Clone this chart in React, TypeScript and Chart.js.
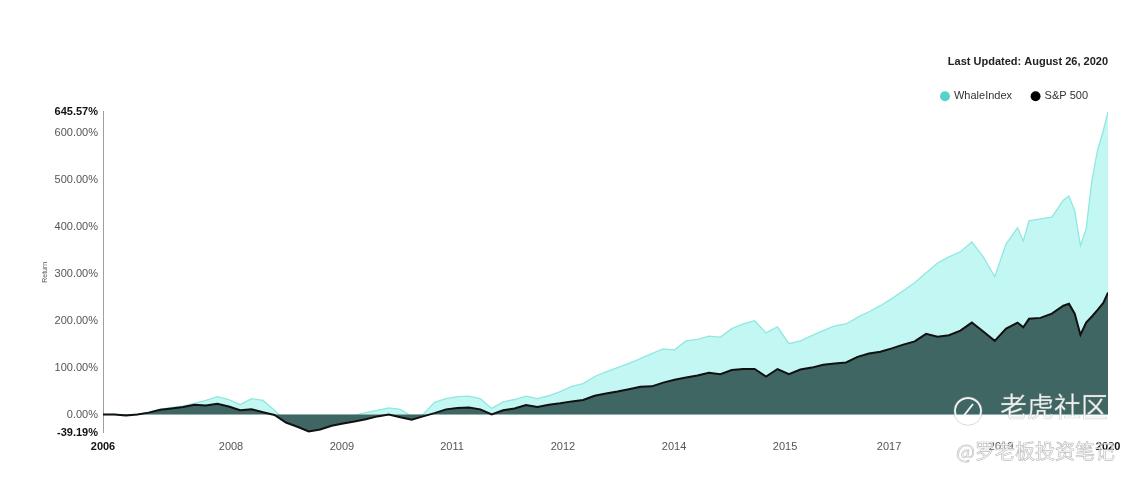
import React, { useEffect, useRef } from 'react';
import { Chart, registerables } from 'chart.js';

Chart.register(...registerables);

// ---- data ----
const DATES = [
  '2006-01', '2006-03', '2006-05', '2006-07', '2006-09', '2006-11',
  '2007-01', '2007-03', '2007-05', '2007-07', '2007-09', '2007-11',
  '2008-01', '2008-03', '2008-05', '2008-07', '2008-09', '2008-11',
  '2009-01', '2009-03', '2009-05', '2009-07', '2009-09', '2009-11',
  '2010-01', '2010-03', '2010-05', '2010-07', '2010-09', '2010-11',
  '2011-01', '2011-03', '2011-05', '2011-07', '2011-09', '2011-11',
  '2012-01', '2012-03', '2012-05', '2012-07', '2012-09', '2012-11',
  '2013-01', '2013-03', '2013-05', '2013-07', '2013-09', '2013-11',
  '2014-01', '2014-03', '2014-05', '2014-07', '2014-09', '2014-11',
  '2015-01', '2015-03', '2015-05', '2015-07', '2015-09', '2015-11',
  '2016-01', '2016-03', '2016-05', '2016-07', '2016-09', '2016-11',
  '2017-01', '2017-03', '2017-05', '2017-07', '2017-09', '2017-11',
  '2018-01', '2018-03', '2018-05', '2018-07', '2018-09', '2018-11',
  '2019-01', '2019-03', '2019-05', '2019-06', '2019-07', '2019-09', '2019-11',
  '2020-01', '2020-02', '2020-03', '2020-04', '2020-05', '2020-06', '2020-07',
  '2020-08-01', '2020-08-26',
];

const WHALE_INDEX = [
  0, 0, -1, 0, 5, 11,
  15, 18, 24, 30, 38, 32,
  21, 34, 30, 9, -15, -23,
  -32, -28, -19, -11, -2, 4,
  9, 14, 11, -4, 0, 26,
  34, 38, 39, 34, 13, 27,
  32, 39, 34, 40, 49, 60,
  66, 81, 91, 100, 109, 119,
  130, 140, 138, 157, 160, 167,
  165, 183, 193, 200, 174, 187,
  151, 157, 168, 179, 189, 193,
  207, 219, 232, 247, 264, 281,
  302, 323, 336, 347, 368, 336,
  294, 364, 398, 370, 413, 417, 421,
  457, 466, 434, 360, 396, 498, 564,
  605, 645.57,
];

const SP500 = [
  0, 0, -2, 0, 4, 10,
  13, 16, 21, 19, 23, 17,
  9, 11, 5, -1, -17, -26,
  -36, -32, -24, -19, -15, -10,
  -4, 0, -6, -11, -4, 3,
  11, 14, 15, 11, 0, 9,
  13, 20, 16, 21, 24, 28,
  31, 40, 45, 49, 54, 59,
  60, 68, 74, 79, 83, 89,
  86, 95, 97, 97, 81, 97,
  86, 96, 100, 106, 109, 111,
  123, 130, 134, 141, 149, 156,
  172, 166, 169, 179, 196, 177,
  157, 183, 196, 186, 204, 206, 215,
  232, 236, 215, 170, 196, 209, 223,
  238, 260,
];

const SERIES_NAMES = ['WhaleIndex', 'S&P 500'];
const Y_TICKS = [-39.19, 0, 100, 200, 300, 400, 500, 600, 645.57];
const X_TICK_YEARS = [2006.0, 2007.866, 2009.484, 2011.088, 2012.706, 2014.325, 2015.943, 2017.46, 2019.092, 2020.652];
const X_TICK_LABELS = ['2006', '2008', '2009', '2011', '2012', '2014', '2015', '2017', '2019', '2020'];
const LAST_UPDATED = 'Last Updated: August 26, 2020';
const Y_TITLE = 'Return';
const WATERMARK_MAIN = '老虎社区';
const WATERMARK_SUB = '@罗老板投资笔记';

const FONT = "'Liberation Sans', Arial, Helvetica, sans-serif";

function toYear(d: string): number {
  const parts = d.split('-').map(Number);
  const y = parts[0];
  const m = parts[1] || 1;
  const day = parts[2] || 1;
  return y + (m - 1) / 12 + (day - 1) / 365;
}

const watermarkPlugin = {
  id: 'watermark',
  afterDraw(chart: any) {
    const ctx = chart.ctx as CanvasRenderingContext2D;
    ctx.save();
    // icon
    ctx.strokeStyle = 'rgba(255,255,255,0.92)';
    ctx.lineWidth = 2;
    ctx.beginPath();
    ctx.arc(968, 411, 13, 0, Math.PI * 2);
    ctx.stroke();
    ctx.strokeStyle = 'rgba(150,150,150,0.45)';
    ctx.lineWidth = 0.8;
    ctx.beginPath();
    ctx.arc(968, 411, 14.3, 0, Math.PI * 2);
    ctx.stroke();
    ctx.strokeStyle = 'rgba(255,255,255,0.92)';
    ctx.lineWidth = 2;
    ctx.beginPath();
    ctx.moveTo(962, 418);
    ctx.lineTo(973, 404);
    ctx.stroke();

    ctx.textBaseline = 'middle';
    ctx.textAlign = 'left';
    ctx.font = "27px 'Noto Sans CJK SC', sans-serif";
    ctx.fillStyle = 'rgba(255,255,255,0.92)';
    ctx.strokeStyle = 'rgba(150,150,150,0.4)';
    ctx.lineWidth = 0.7;
    ctx.fillText(WATERMARK_MAIN, 1000, 407);
    ctx.strokeText(WATERMARK_MAIN, 1000, 407);

    ctx.font = "20px 'Noto Sans CJK SC', sans-serif";
    ctx.fillStyle = 'rgba(255,255,255,0.88)';
    ctx.strokeStyle = 'rgba(150,150,150,0.6)';
    ctx.lineWidth = 0.7;
    ctx.fillText(WATERMARK_SUB, 956, 451);
    ctx.strokeText(WATERMARK_SUB, 956, 451);
    ctx.restore();
  },
};

export default function App() {
  const canvasRef = useRef<HTMLCanvasElement | null>(null);

  useEffect(() => {
    document.body.style.margin = '0';
    document.body.style.background = '#ffffff';
    const canvas = canvasRef.current;
    if (!canvas) return;

    const xs = DATES.map(toYear);
    const whaleData = xs.map((x, i) => ({ x, y: WHALE_INDEX[i] }));
    const spData = xs.map((x, i) => ({ x, y: SP500[i] }));
    const yMin = Y_TICKS[0];
    const yMax = Y_TICKS[Y_TICKS.length - 1];

    const isEdgeY = (v: number) => v === yMin || v === yMax;

    const chart = new Chart(canvas, {
      type: 'line',
      data: {
        datasets: [
          {
            label: SERIES_NAMES[0],
            data: whaleData,
            borderColor: '#90e8e0',
            borderWidth: 1.3,
            backgroundColor: '#c3f7f3',
            fill: 'origin',
            pointRadius: 0,
            pointBackgroundColor: '#56d2c6',
            pointBorderColor: '#56d2c6',
            pointBorderWidth: 0,
            pointStyle: 'circle',
            tension: 0,
            order: 2,
          },
          {
            label: SERIES_NAMES[1],
            data: spData,
            borderColor: '#111111',
            borderWidth: 2,
            backgroundColor: '#3f6663',
            fill: 'origin',
            pointRadius: 0,
            pointBackgroundColor: '#000000',
            pointBorderColor: '#000000',
            pointBorderWidth: 0,
            pointStyle: 'circle',
            tension: 0,
            order: 1,
          },
        ],
      },
      options: {
        responsive: false,
        maintainAspectRatio: false,
        animation: false,
        events: [],
        layout: { padding: { top: 0, left: 0, right: 29, bottom: 0 } },
        plugins: {
          title: {
            display: true,
            text: LAST_UPDATED,
            align: 'end',
            color: '#222222',
            font: { family: FONT, size: 11, weight: 'bold' },
            padding: { top: 55.4, bottom: 2.1 },
          },
          legend: {
            display: true,
            align: 'end',
            labels: {
              usePointStyle: true,
              pointStyle: 'circle',
              boxWidth: 7,
              boxHeight: 7,
              padding: 20,
              color: '#333333',
              font: { family: FONT, size: 11 },
              sort: (a: any, b: any) => a.datasetIndex - b.datasetIndex,
            },
          },
          tooltip: { enabled: false },
        },
        scales: {
          x: {
            type: 'linear',
            min: xs[0],
            max: xs[xs.length - 1],
            afterBuildTicks: (s: any) => {
              s.ticks = X_TICK_YEARS.map((v) => ({ value: v }));
            },
            afterFit: (s: any) => {
              s.height = 45.1;
            },
            grid: { display: false, drawTicks: false },
            border: { display: false },
            ticks: {
              autoSkip: false,
              maxRotation: 0,
              minRotation: 0,
              padding: 7,
              callback: (_v: any, i: number) => X_TICK_LABELS[i],
              color: (c: any) => (c.index === 0 || c.index === X_TICK_LABELS.length - 1 ? '#111111' : '#555555'),
              font: (c: any) => ({
                family: FONT,
                size: 11,
                weight: c.index === 0 || c.index === X_TICK_LABELS.length - 1 ? 'bold' : 'normal',
              }),
            },
          },
          y: {
            type: 'linear',
            min: yMin,
            max: yMax,
            afterBuildTicks: (s: any) => {
              s.ticks = Y_TICKS.map((v) => ({ value: v }));
            },
            afterFit: (s: any) => {
              s.width = 103;
            },
            grid: { display: false, drawTicks: false },
            border: { display: true, color: '#a0a0a0', width: 1 },
            title: {
              display: true,
              text: Y_TITLE,
              color: '#555555',
              font: { family: FONT, size: 7 },
              padding: { top: 41, bottom: 0 },
            },
            ticks: {
              autoSkip: false,
              padding: 5,
              callback: (v: any) => Number(v).toFixed(2) + '%',
              color: (c: any) => (c.tick && isEdgeY(c.tick.value) ? '#111111' : '#555555'),
              font: (c: any) => ({
                family: FONT,
                size: 11,
                weight: c.tick && isEdgeY(c.tick.value) ? 'bold' : 'normal',
              }),
            },
          },
        },
      },
      plugins: [watermarkPlugin],
    } as any);

    return () => {
      chart.destroy();
    };
  }, []);

  return (
    <div style={{ position: 'relative', width: 1137, height: 478 }}>
      <canvas ref={canvasRef} width={1137} height={478} style={{ display: 'block' }} />
    </div>
  );
}
